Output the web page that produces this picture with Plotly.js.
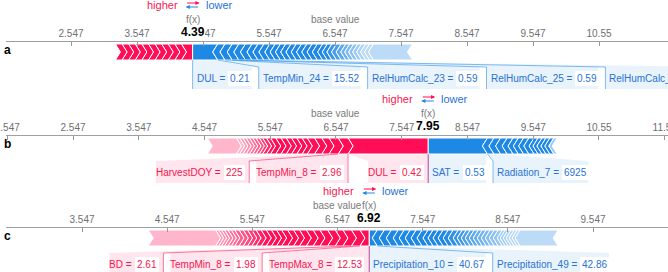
<!DOCTYPE html>
<html><head><meta charset="utf-8">
<script src="https://cdn.plot.ly/plotly-3.0.1.min.js"></script>
<style>html,body{margin:0;padding:0;background:#fff}#chart{width:668px;height:272px}</style>
</head><body><div id="chart"></div>
<script>
// ---------------- data ----------------
const panelLetters = ['a', 'b', 'c'];
const baseValues = [6.547, 6.547, 6.547];
const fxValues = [4.39, 7.95, 6.92];

const ticksA = [2.547, 3.547, 4.547, 5.547, 6.547, 7.547, 8.547, 9.547, 10.547];
const ticksB = [1.547, 2.547, 3.547, 4.547, 5.547, 6.547, 7.547, 8.547, 9.547, 10.547, 11.547];
const ticksC = [3.547, 4.547, 5.547, 6.547, 7.547, 8.547, 9.547];

// effects ordered from f(x) outward (largest first)
const redEffectsA = [0.17, 0.10, 0.10, 0.10, 0.10, 0.10, 0.10, 0.10, 0.10, 0.10, 0.10];
const redNamesA = [];
const redValuesA = [];
const blueEffectsA = [0.38, 0.11, 0.11, 0.10, 0.10, 0.10, 0.09, 0.09, 0.09, 0.08, 0.08, 0.08, 0.08, 0.08,
  0.08, 0.08, 0.08, 0.08, 0.08, 0.07, 0.07, 0.07, 0.07, 0.07, 0.06, 0.06, 0.06, 0.06, 0.06, 0.06, 0.06, 0.59];
const blueNamesA = ['DUL', 'TempMin_24', 'RelHumCalc_23', 'RelHumCalc_25', 'RelHumCalc_24'];
const blueValuesA = ['0.21', '15.52', '0.59', '0.59', '0.59'];

const redEffectsB = [1.22, 0.15, 0.14, 0.11, 0.11, 0.11, 0.08, 0.08, 0.08, 0.08, 0.08, 0.08, 0.08, 0.06, 0.06,
  0.05, 0.05, 0.05, 0.05, 0.05, 0.05, 0.05, 0.05, 0.44];
const redNamesB = ['DUL', 'TempMin_8', 'HarvestDOY'];
const redValuesB = ['0.42', '2.96', '225'];
const blueEffectsB = [0.90, 0.10, 0.10, 0.10, 0.09, 0.08, 0.08, 0.08, 0.08, 0.06, 0.06, 0.06, 0.06, 0.06, 0.05];
const blueNamesB = ['SAT', 'Radiation_7'];
const blueValuesB = ['0.53', '6925'];

const redEffectsC = [0.11, 0.10, 0.10, 0.09, 0.09, 0.09, 0.08, 0.08, 0.08, 0.07, 0.07, 0.07, 0.06, 0.06, 0.06,
  0.06, 0.06, 0.05, 0.05, 0.05, 0.05, 0.05, 0.04, 0.04, 0.04, 0.035, 0.035, 0.035, 0.79];
const redNamesC = ['TempMax_8', 'TempMin_8', 'BD'];
const redValuesC = ['12.53', '1.98', '2.61'];
const blueEffectsC = [0.094, 0.082, 0.082, 0.082, 0.07, 0.07, 0.07, 0.07, 0.07, 0.059, 0.059, 0.059, 0.059,
  0.059, 0.059, 0.047, 0.047, 0.047, 0.047, 0.047, 0.047, 0.047, 0.047, 0.047, 0.047, 0.047,
  0.035, 0.035, 0.035, 0.035, 0.035, 0.035, 0.446];
const blueNamesC = ['Precipitation_10', 'Precipitation_49'];
const blueValuesC = ['40.67', '42.86'];

// ---------------- style / layout ----------------
const W = 668, H = 272, DOM0 = 6, TIP = 5;
const FONT = '"Liberation Sans", Arial, Helvetica, sans-serif';
const RED = [255, 13, 87], BLUE = [30, 136, 229];
const RED_TXT = '#f5164f', BLUE_TXT = '#2a72d5';
const panels = [
  {ticks: ticksA, range: [1.5622, 11.5925], axisY: 41,
   red: {eff: redEffectsA, names: redNamesA, vals: redValuesA, fade: [99, 100]},
   blue: {eff: blueEffectsA, names: blueNamesA, vals: blueValuesA, fade: [2.05, 2.65]}},
  {ticks: ticksB, range: [1.528, 11.5966], axisY: 135,
   red: {eff: redEffectsB, names: redNamesB, vals: redValuesB, fade: [2.4, 2.9]},
   blue: {eff: blueEffectsB, names: blueNamesB, vals: blueValuesB, fade: [1.88, 1.95]}},
  {ticks: ticksC, range: [2.6547, 10.4273], axisY: 227,
   red: {eff: redEffectsC, names: redNamesC, vals: redValuesC, fade: [1.22, 1.9]},
   blue: {eff: blueEffectsC, names: blueNamesC, vals: blueValuesC, fade: [0.92, 1.74]}}
];

const cv = document.createElement('canvas'); const ctx = cv.getContext('2d');
function textW(s, size, bold) { ctx.font = (bold ? 'bold ' : '') + size + 'px ' + FONT; return ctx.measureText(s).width; }
function mixWhite(c, a) { return 'rgb(' + c.map(v => Math.round(255 - a * (255 - v))).join(',') + ')'; }
function rgba(c, a) { return 'rgba(' + c.join(',') + ',' + a + ')'; }
function alphaFor(dist, f) { if (dist <= f[0]) return 1; if (dist >= f[1]) return 0.3; return 1 - 0.7 * (dist - f[0]) / (f[1] - f[0]); }

const backs = [], bars = [], links = [], annotations = [];
const layout = {
  width: W, height: H, margin: {l: 0, r: 0, t: 0, b: 0}, showlegend: false, hovermode: false,
  paper_bgcolor: 'white', plot_bgcolor: 'white',
  yaxis: {domain: [0, 1], range: [H, 0], visible: false, fixedrange: true}
};

panels.forEach((p, k) => {
  const xa = k === 0 ? 'x' : 'x' + (k + 1);
  const axName = k === 0 ? 'xaxis' : 'xaxis' + (k + 1);
  const base = baseValues[k], fx = fxValues[k];
  const ppu = (W - DOM0) / (p.range[1] - p.range[0]);
  const toPx = v => DOM0 + (v - p.range[0]) * ppu;
  const toData = px => p.range[0] + (px - DOM0) / ppu;
  const d = TIP / ppu;
  const Y = p.axisY, top = Y + 3, bot = Y + 19, mid = Y + 11;
  const labTop = bot + 7, labBot = labTop + 22, labY = Y + 37;

  const ax = {
    domain: [DOM0 / W, 1], range: p.range, anchor: 'free', position: 1 - Y / H, side: 'top',
    tickmode: 'array', tickvals: p.ticks, ticktext: p.ticks.map(t => String(Number(t.toPrecision(4)))),
    ticks: 'inside', ticklen: 4, tickwidth: 1, tickcolor: '#999', showline: true, linecolor: '#a0a0a0', linewidth: 1,
    showgrid: false, zeroline: false, fixedrange: true, ticklabeloverflow: 'allow',
    tickfont: {family: FONT, size: 10, color: '#6f6f6f'}
  };
  if (k > 0) ax.overlaying = 'x';
  layout[axName] = ax;

  const seg = (xs, ys, col) => bars.push({type: 'scatter', mode: 'lines', x: xs, y: ys, xaxis: xa, yaxis: 'y',
    fill: 'toself', fillcolor: col, line: {color: 'white', width: 1}, hoverinfo: 'skip'});

  // red (positive) segments, going left from f(x)
  let cur = fx; const redNear = [], redFar = [];
  p.red.eff.forEach((e, i) => {
    const R = cur, L = cur - e;
    const col = mixWhite(RED, alphaFor(fx - (L + R) / 2, p.red.fade));
    const xs = [L, R], ys = [top, top];
    if (i > 0) { xs.push(R + d); ys.push(mid); }
    xs.push(R, L, L + d, L); ys.push(bot, bot, mid, top);
    seg(xs, ys, col); redNear.push(R); redFar.push(L); cur = L;
  });
  // blue (negative) segments, going right from f(x)
  cur = fx; const blueNear = [], blueFar = [];
  p.blue.eff.forEach((e, i) => {
    const L = cur, R = cur + e;
    const col = mixWhite(BLUE, alphaFor((L + R) / 2 - fx, p.blue.fade));
    const xs = [L, R, R - d, R, L], ys = [top, top, mid, bot, bot];
    if (i > 0) { xs.push(L - d); ys.push(mid); }
    xs.push(L); ys.push(top);
    seg(xs, ys, col); blueNear.push(L); blueFar.push(R); cur = R;
  });

  const addLabel = (name, val, nameLeft, valLeft, color) => {
    annotations.push({xref: xa, yref: 'y', x: toData(nameLeft), y: labY, xanchor: 'left', yanchor: 'middle',
      text: name + ' =', showarrow: false, borderpad: 0, borderwidth: 0, font: {family: FONT, size: 10, color: color}});
    annotations.push({xref: xa, yref: 'y', x: toData(valLeft), y: labY, xanchor: 'left', yanchor: 'middle',
      text: val, showarrow: false, bgcolor: 'white', borderpad: 2, borderwidth: 0, font: {family: FONT, size: 10, color: color}});
  };

  // blue labels
  let prevEnd = -1e9;
  p.blue.names.forEach((nm, i) => {
    const anc = toPx(blueNear[i]), far = toPx(blueFar[i]);
    const div = i === 0 ? anc : Math.max(anc, prevEnd + 7);
    const nameLeft = div + 4, nameW = textW(nm + ' =', 10);
    const valLeft = nameLeft + nameW + 3, valW = textW(p.blue.vals[i], 10) + 4;
    const end = valLeft + valW;
    backs.push({type: 'scatter', mode: 'lines', xaxis: xa, yaxis: 'y', hoverinfo: 'skip',
      x: [anc, far, end, end, div, div, anc].map(toData), y: [bot, bot, labTop, labBot, labBot, labTop, bot],
      fill: 'toself', fillcolor: rgba(BLUE, 0.1), line: {width: 0, color: 'rgba(0,0,0,0)'}});
    links.push({type: 'scatter', mode: 'lines', xaxis: xa, yaxis: 'y', hoverinfo: 'skip',
      x: [anc, div, div].map(toData), y: [bot, labTop, labBot], line: {color: rgba(BLUE, 0.55), width: 1}});
    addLabel(nm, p.blue.vals[i], nameLeft, valLeft, BLUE_TXT);
    prevEnd = end;
  });
  // red labels
  let prevStart = 1e9;
  p.red.names.forEach((nm, i) => {
    const anc = toPx(redNear[i]), far = toPx(redFar[i]);
    const div = i === 0 ? anc : Math.min(anc, prevStart - 7);
    const valW = textW(p.red.vals[i], 10) + 4, nameW = textW(nm + ' =', 10);
    const valLeft = div - 5 - valW, nameLeft = valLeft - 3 - nameW;
    backs.push({type: 'scatter', mode: 'lines', xaxis: xa, yaxis: 'y', hoverinfo: 'skip',
      x: [far, anc, div, div, nameLeft, nameLeft, far].map(toData), y: [bot, bot, labTop, labBot, labBot, labTop, bot],
      fill: 'toself', fillcolor: rgba(RED, 0.1), line: {width: 0, color: 'rgba(0,0,0,0)'}});
    links.push({type: 'scatter', mode: 'lines', xaxis: xa, yaxis: 'y', hoverinfo: 'skip',
      x: [anc, div, div].map(toData), y: [bot, labTop, labBot], line: {color: rgba(RED, 0.55), width: 1}});
    addLabel(nm, p.red.vals[i], nameLeft, valLeft, RED_TXT);
    prevStart = nameLeft;
  });

  // top texts
  const fxPx = toPx(fx);
  annotations.push({xref: xa, yref: 'y', x: fx, y: Y - 9, xanchor: 'center', yanchor: 'middle', text: '<b>' + fx.toFixed(2) + '</b>',
    showarrow: false, bgcolor: 'white', borderpad: 0, borderwidth: 0, font: {family: FONT, size: 12, color: '#000'}});
  annotations.push({xref: xa, yref: 'y', x: fx, y: Y - 22, xanchor: 'center', yanchor: 'middle', text: 'f(x)',
    showarrow: false, font: {family: FONT, size: 10, color: '#7a7a7a'}});
  annotations.push({xref: xa, yref: 'y', x: base, y: Y - 22, xanchor: 'center', yanchor: 'middle', text: 'base value',
    showarrow: false, font: {family: FONT, size: 10, color: '#7a7a7a'}});
  annotations.push({xref: xa, yref: 'y', x: toData(fxPx - 13), y: Y - 36, xanchor: 'right', yanchor: 'middle', text: 'higher',
    showarrow: false, font: {family: FONT, size: 11, color: RED_TXT}});
  annotations.push({xref: xa, yref: 'y', x: toData(fxPx + 11), y: Y - 36, xanchor: 'left', yanchor: 'middle', text: 'lower',
    showarrow: false, font: {family: FONT, size: 11, color: BLUE_TXT}});
  annotations.push({xref: xa, yref: 'y', x: toData(fxPx + 7), y: Y - 38, ax: -14, ay: 0, text: '', showarrow: true,
    arrowhead: 2, arrowsize: 0.7, arrowwidth: 1.2, arrowcolor: rgba(RED, 1), standoff: 0, startstandoff: 0});
  annotations.push({xref: xa, yref: 'y', x: toData(fxPx - 7), y: Y - 34, ax: 14, ay: 0, text: '', showarrow: true,
    arrowhead: 2, arrowsize: 0.7, arrowwidth: 1.2, arrowcolor: rgba(BLUE, 1), standoff: 0, startstandoff: 0});
  // panel letter
  annotations.push({xref: 'paper', yref: 'y', x: 2 / W, y: Y + 9, xanchor: 'left', yanchor: 'middle', text: '<b>' + panelLetters[k] + '</b>',
    showarrow: false, font: {family: FONT, size: 12, color: '#000'}});
});

layout.annotations = annotations;
Plotly.newPlot('chart', backs.concat(bars, links), layout, {displayModeBar: false, staticPlot: true});
</script></body></html>
